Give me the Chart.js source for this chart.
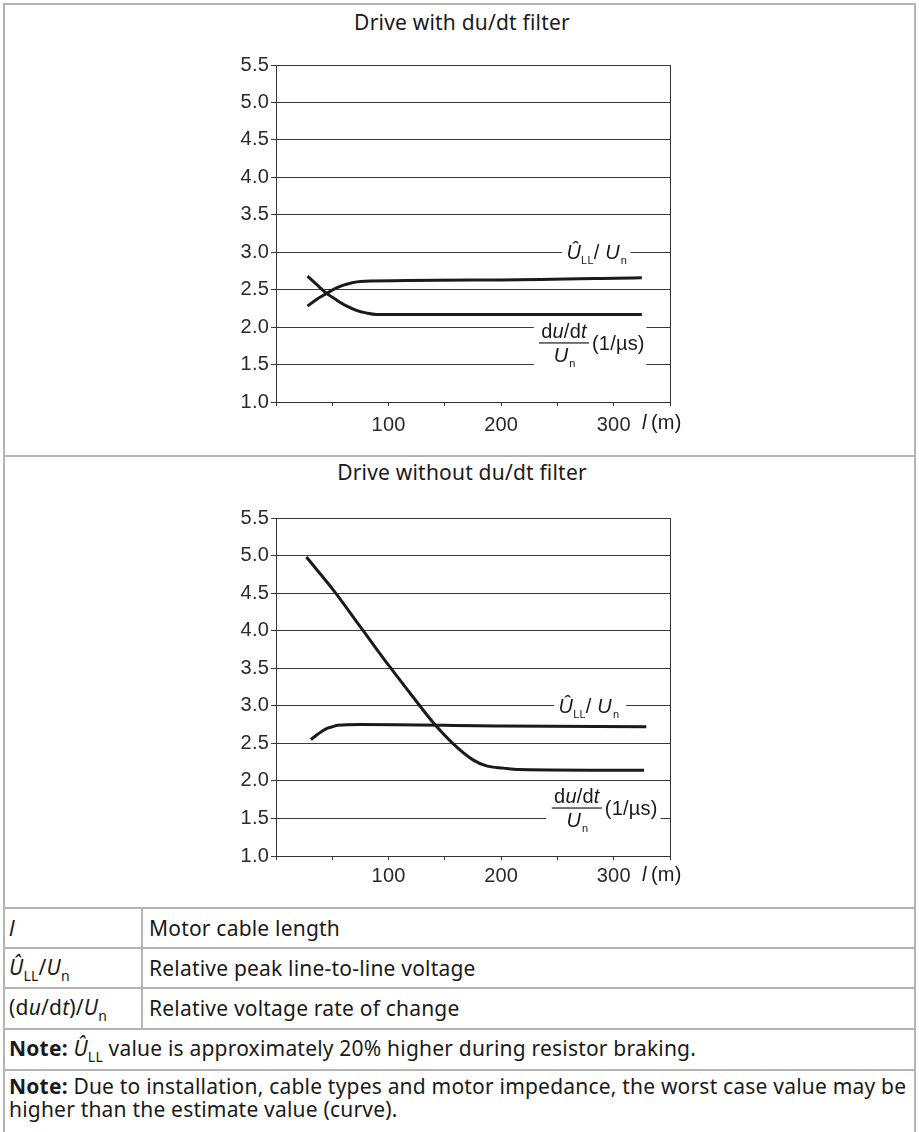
<!DOCTYPE html>
<html>
<head>
<meta charset="utf-8">
<script src="https://cdn.jsdelivr.net/npm/chart.js@4.4.1/dist/chart.umd.min.js"></script>
<style>
  body { margin:0; background:#fff; width:919px; height:1132px; overflow:hidden; position:relative;
         font-family:"Noto Sans", sans-serif; font-size:21px; letter-spacing:0.2px; color:#1a1a1a; }
  .hl { position:absolute; height:2px; background:#b4b4b4; }
  .vl { position:absolute; width:2px; background:#b4b4b4; }
  .txt { position:absolute; white-space:nowrap; line-height:24px; }
  .sub { font-size:14px; position:relative; top:6px; font-style:normal; }
  canvas { position:absolute; }
</style>
</head>
<body>
<!-- table borders -->
<div class="hl" style="left:3px;top:3px;width:913px"></div>
<div class="vl" style="left:3px;top:3px;height:1129px"></div>
<div class="vl" style="left:914px;top:3px;height:1129px"></div>
<div class="hl" style="left:3px;top:455px;width:913px"></div>
<div class="hl" style="left:3px;top:907px;width:913px"></div>
<div class="hl" style="left:3px;top:947px;width:913px"></div>
<div class="hl" style="left:3px;top:987px;width:913px"></div>
<div class="hl" style="left:3px;top:1028px;width:913px"></div>
<div class="hl" style="left:3px;top:1069px;width:913px"></div>
<div class="vl" style="left:141px;top:907px;height:122px"></div>

<div class="txt" style="left:6px;width:912px;text-align:center;top:10px">Drive with du/dt filter</div>
<div class="txt" style="left:6px;width:912px;text-align:center;top:460px">Drive without du/dt filter</div>

<canvas id="withFilter" width="520" height="410" style="left:200px;top:40px"></canvas>
<canvas id="withoutFilter" width="520" height="410" style="left:200px;top:490px"></canvas>

<div class="txt" style="left:9px;top:916px"><i>l</i></div>
<div class="txt" style="left:149px;top:916px">Motor cable length</div>
<div class="txt" style="left:9px;top:955px"><i>Û</i><span class="sub">LL</span>/<i>U</i><span class="sub">n</span></div>
<div class="txt" style="left:149px;top:956px">Relative peak line-to-line voltage</div>
<div class="txt" style="left:9px;top:995px">(d<i>u</i>/d<i>t</i>)/<i>U</i><span class="sub">n</span></div>
<div class="txt" style="left:149px;top:996px">Relative voltage rate of change</div>
<div class="txt" style="left:9px;top:1036px"><b>Note:</b> <i>Û</i><span class="sub">LL</span> value is approximately 20% higher during resistor braking.</div>
<div class="txt" style="left:9px;top:1074px"><b>Note:</b> Due to installation, cable types and motor impedance, the worst case value may be</div>
<div class="txt" style="left:9px;top:1097px">higher than the estimate value (curve).</div>

<script>
// cable length (m) and relative values
const withUllX = [28, 36, 45, 52, 60, 67, 75, 200, 325];
const withUllY = [2.28, 2.37, 2.45, 2.51, 2.56, 2.59, 2.61, 2.63, 2.66];
const withDuX = [28, 36, 45, 54, 63, 72, 80, 89, 150, 250, 325];
const withDuY = [2.68, 2.57, 2.45, 2.36, 2.28, 2.22, 2.19, 2.17, 2.17, 2.17, 2.17];

const noUllX = [31, 37, 44, 50, 55, 75, 200, 329];
const noUllY = [2.55, 2.62, 2.69, 2.72, 2.74, 2.75, 2.73, 2.72];
const noDuX = [27, 51, 75, 101, 119, 140, 157, 175, 187, 202, 216, 327];
const noDuY = [4.98, 4.54, 4.05, 3.52, 3.17, 2.77, 2.50, 2.28, 2.20, 2.17, 2.15, 2.14];

const yTicks = [1.0, 1.5, 2.0, 2.5, 3.0, 3.5, 4.0, 4.5, 5.0, 5.5];
const xLabels = [100, 200, 300];

const FONT = '"Liberation Sans", Arial, sans-serif';
const INK = '#1a1a1a';

function pts(xs, ys) {
  return xs.map((x, i) => ({ x: x, y: ys[i] }));
}

// draws the Û_LL / U_n label, left edge at px x, centred on px y
function drawUll(ctx, x, y) {
  ctx.textBaseline = 'alphabetic';
  ctx.textAlign = 'left';
  const base = y + 7;
  ctx.font = 'italic 20px ' + FONT;
  ctx.fillText('Û', x, base); x += ctx.measureText('Û').width;
  ctx.font = '11px ' + FONT;
  ctx.fillText('LL', x, base + 5); x += ctx.measureText('LL').width;
  ctx.font = '20px ' + FONT;
  ctx.fillText('/ ', x, base); x += ctx.measureText('/ ').width;
  ctx.font = 'italic 20px ' + FONT;
  ctx.fillText('U', x, base); x += ctx.measureText('U').width + 1;
  ctx.font = '11px ' + FONT;
  ctx.fillText('n', x, base + 5);
}

// draws the (du/dt)/U_n fraction, fraction bar from px x, at px y
function drawDu(ctx, x, y) {
  const w = 50;
  ctx.textBaseline = 'alphabetic';
  ctx.textAlign = 'left';
  // numerator
  const parts = [['d', ''], ['u', 'italic '], ['/d', ''], ['t', 'italic ']];
  let tw = 0;
  parts.forEach(p => { ctx.font = p[1] + '20px ' + FONT; tw += ctx.measureText(p[0]).width; });
  let nx = x + (w - tw) / 2;
  parts.forEach(p => {
    ctx.font = p[1] + '20px ' + FONT;
    ctx.fillText(p[0], nx, y - 5);
    nx += ctx.measureText(p[0]).width;
  });
  ctx.fillRect(x, y - 0.5, w, 1.2);
  // denominator
  ctx.font = 'italic 20px ' + FONT;
  const uw = ctx.measureText('U').width;
  let dx = x + (w - uw - 6) / 2;
  ctx.fillText('U', dx, y + 19);
  ctx.font = '11px ' + FONT;
  ctx.fillText('n', dx + uw + 1, y + 24);
  ctx.font = '20px ' + FONT;
  ctx.fillText('(1/µs)', x + w + 3, y + 7);
}

const notes = {
  id: 'notes',
  beforeDatasetsDraw(chart, args, o) {
    const ctx = chart.ctx, xs = chart.scales.x, ys = chart.scales.y, a = chart.chartArea;
    ctx.save();
    // right frame line
    ctx.strokeStyle = '#333';
    ctx.lineWidth = 1;
    ctx.beginPath();
    ctx.moveTo(a.right + 0.5, a.top);
    ctx.lineTo(a.right + 0.5, a.bottom);
    ctx.stroke();
    // white gaps in the grid behind labels
    ctx.fillStyle = '#fff';
    o.gaps.forEach(g => {
      const x0 = xs.getPixelForValue(g[0]), x1 = xs.getPixelForValue(g[1]);
      const y0 = ys.getPixelForValue(g[2]), y1 = ys.getPixelForValue(g[3]);
      ctx.fillRect(x0, y0, x1 - x0, y1 - y0);
    });
    ctx.fillStyle = INK;
    drawUll(ctx, xs.getPixelForValue(o.ull[0]), ys.getPixelForValue(o.ull[1]));
    drawDu(ctx, xs.getPixelForValue(o.du[0]), ys.getPixelForValue(o.du[1]));
    // axis title  l (m)
    ctx.textBaseline = 'middle';
    ctx.font = 'italic 20px ' + FONT;
    ctx.fillText('l', a.right - 28, a.bottom + o.unitDy);
    ctx.font = '20px ' + FONT;
    ctx.fillText('(m)', a.right - 19, a.bottom + o.unitDy);
    ctx.restore();
  }
};

function makeChart(id, ullPts, duPts, padTop, xHeight, xPad, opts) {
  return new Chart(document.getElementById(id), {
    type: 'line',
    data: {
      datasets: [
        { data: ullPts, borderColor: INK, borderWidth: 3, pointRadius: 0, cubicInterpolationMode: 'monotone', borderCapStyle: 'butt' },
        { data: duPts, borderColor: INK, borderWidth: 3, pointRadius: 0, cubicInterpolationMode: 'monotone', borderCapStyle: 'butt' }
      ]
    },
    options: {
      responsive: false,
      animation: false,
      layout: { padding: { top: padTop, right: 50, left: 0, bottom: 0 } },
      plugins: { legend: { display: false }, tooltip: { enabled: false }, notes: opts },
      scales: {
        x: {
          type: 'linear', min: 0, max: 350,
          afterFit(s) { s.height = xHeight; },
          afterBuildTicks(s) { s.ticks = [0, 50, 100, 150, 200, 250, 300, 350].map(v => ({ value: v })); },
          ticks: {
            font: { family: FONT, size: 20 }, color: '#2a2a2a', padding: xPad, maxRotation: 0,
            callback: v => xLabels.includes(v) ? String(v) : ''
          },
          grid: { drawOnChartArea: false, drawTicks: true, tickLength: 4, color: '#333' },
          border: { color: '#333', width: 1 }
        },
        y: {
          min: 1, max: 5.5,
          afterFit(s) { s.width = 76; },
          afterBuildTicks(s) { s.ticks = yTicks.map(v => ({ value: v })); },
          ticks: {
            font: { family: FONT, size: 20 }, color: '#2a2a2a', padding: 2,
            callback: v => v.toFixed(1)
          },
          grid: { color: '#3a3a3a', lineWidth: 1, tickLength: 5 },
          border: { color: '#333', width: 1 }
        }
      }
    },
    plugins: [notes]
  });
}

makeChart('withFilter', pts(withUllX, withUllY), pts(withDuX, withDuY), 25, 48, 7, {
  ull: [258, 3.0],
  du: [233.6, 1.79],
  unitDy: 21,
  gaps: [[254, 315, 3.08, 2.92], [229, 329, 2.08, 1.42]]
});
makeChart('withoutFilter', pts(noUllX, noUllY), pts(noDuX, noDuY), 28, 44, 4, {
  ull: [251, 3.0],
  du: [245, 1.64],
  unitDy: 19,
  gaps: [[247, 311, 3.08, 2.92], [240, 341.6, 1.56, 1.44]]
});
</script>
</body>
</html>
